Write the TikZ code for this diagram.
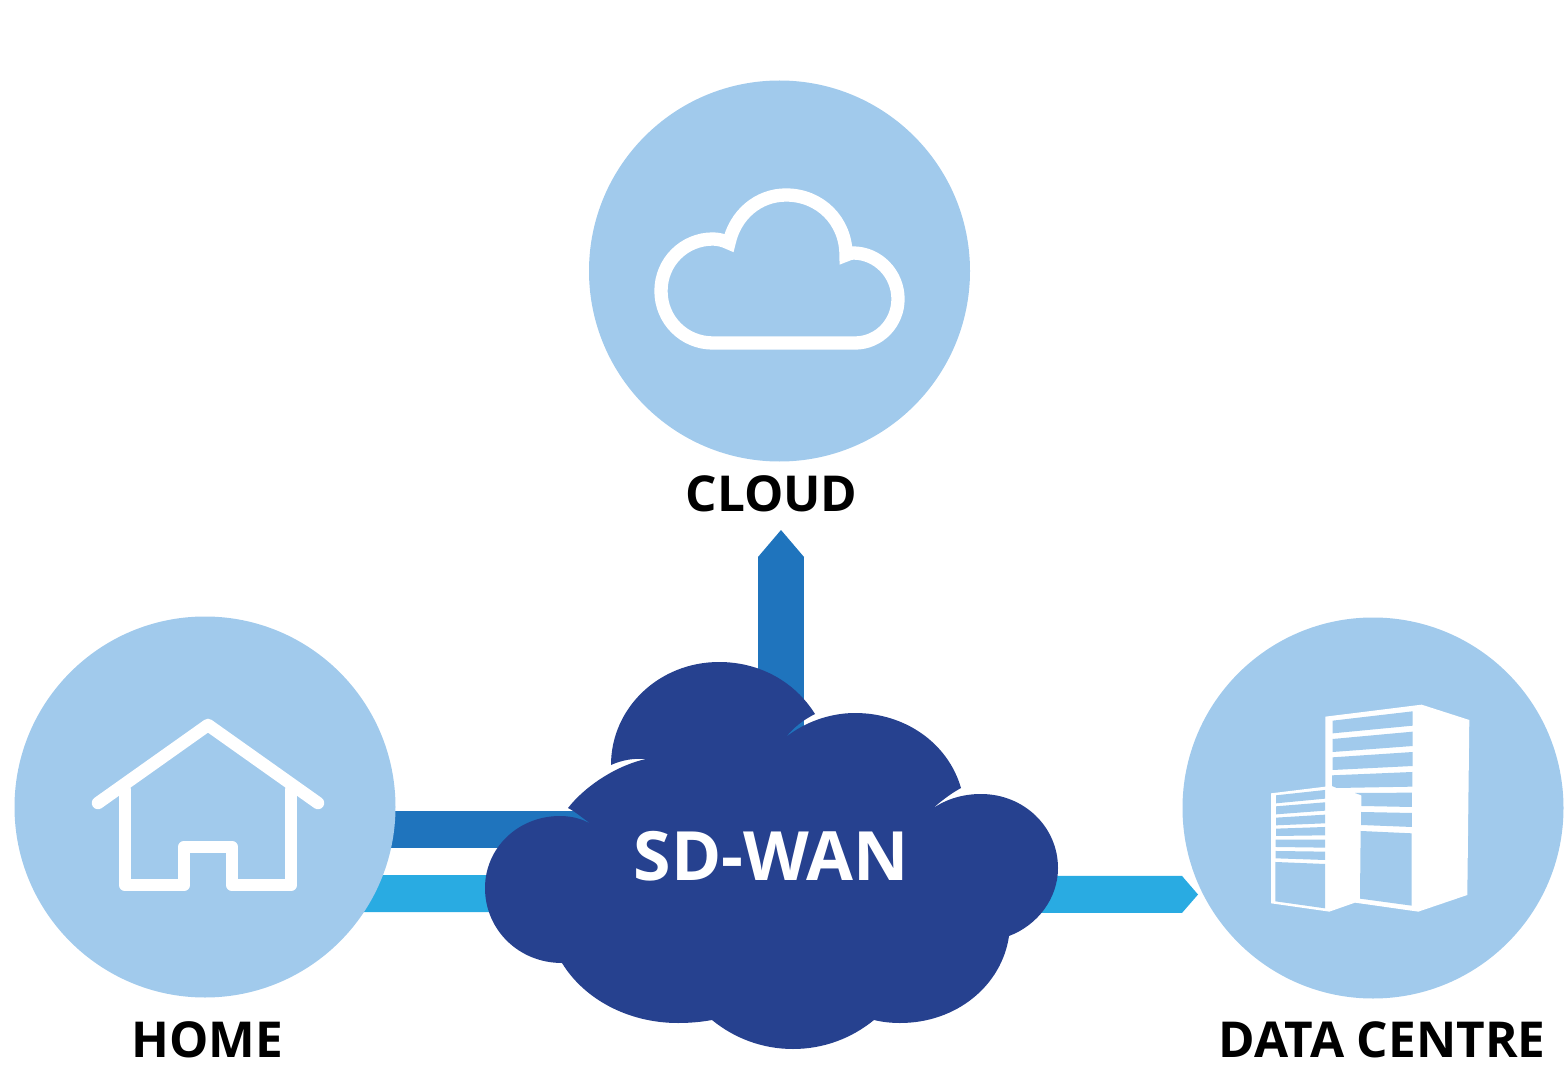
\documentclass[tikz,border=0pt]{standalone}
\usepackage{fontspec}
\setmainfont{Open Sans}
\usetikzlibrary{arrows.meta}
\definecolor{sitefill}{HTML}{A1CAEC}
\definecolor{wanfill}{HTML}{26418F}
\definecolor{darkbar}{HTML}{1F74BD}
\definecolor{lightbar}{HTML}{29ABE2}
\tikzset{site/.style={shape=circle,fill=sitefill,minimum size=381pt,inner sep=0pt}}
\tikzset{sitelabel/.style={font=\fontsize{49.5}{52}\selectfont\bfseries,text=black,inner sep=0pt}}
\tikzset{wanlabel/.style={font=\fontsize{68}{70}\selectfont\bfseries,text=white,inner sep=0pt}}
\tikzset{icon/.style={draw=white,line width=12.5pt,line join=round,line cap=round}}
\begin{document}
\begin{tikzpicture}[x=1pt,y=-1pt]
  \useasboundingbox (0,0) rectangle (1564,1075);

  \coordinate (cloudtip) at (781,530);
  \coordinate (wanup) at (781,760);
  \coordinate (homeup) at (300,829.5);
  \coordinate (wanleft) at (590,829.5);
  \coordinate (homedown) at (300,893.5);
  \coordinate (datatip) at (1198,894.5);

  \draw[darkbar,line width=46pt,-{Triangle[width=46pt,length=27pt,line width=0pt]}] (wanup) -- (cloudtip);
  \draw[darkbar,line width=37pt] (homeup) -- (wanleft);
  \draw[lightbar,line width=37pt,-{Triangle[width=37pt,length=16pt,line width=0pt]}] (homedown) -- (datatip);

  \node (cloudsite) [site] at (779.5,271) {};
  \node (homesite) [site] at (205,807) {};
  \node (datasite) [site] at (1373,808) {};

  \node (cloudlabel) [sitelabel, below of = cloudsite, node distance = 223pt, xshift = -8pt] {CLOUD};
  \node (homelabel) [sitelabel, below of = homesite, node distance = 233pt, xshift = 2pt] {HOME};
  \node (datalabel) [sitelabel, below of = datasite, node distance = 232pt, xshift = 9pt] {DATA CENTRE};

  \fill[wanfill] (611,765) .. controls (611,708) and (659,662) .. (719,662)
    .. controls (760,662) and (795,682) .. (815,714)
    .. controls (803,720) and (793,728) .. (786,737)
    .. controls (805,722) and (830,713) .. (855,713)
    .. controls (905,713) and (948,743) .. (961,788)
    .. controls (950,794) and (940,802) .. (932,809)
    .. controls (946,799) and (963,794) .. (981,794)
    .. controls (1024,794) and (1058,827) .. (1058,868)
    .. controls (1058,898) and (1038,925) .. (1009,936)
    .. controls (1002,985) and (957,1023) .. (900,1023)
    .. controls (891,1023) and (882,1022) .. (874,1020)
    .. controls (852,1038) and (824,1049) .. (793,1049)
    .. controls (762,1049) and (734,1038) .. (712,1020)
    .. controls (701,1022) and (690,1023) .. (678,1023)
    .. controls (628,1023) and (584,999) .. (562,963)
    .. controls (519,963) and (485,930) .. (485,888)
    .. controls (485,848) and (518,816) .. (560,816)
    .. controls (574,816) and (586,820) .. (595,827)
    .. controls (585,820) and (576,812) .. (568,808)
    .. controls (586,785) and (618,765) .. (646,759)
    .. controls (634,758) and (622,760) .. (611,765) -- cycle;
  \node (wan) [wanlabel] at (771,856) {SD-WAN};

  \draw[icon,line width=13.3pt,line join=miter] (713,343) -- (855,343)
    .. controls (879,343) and (898,323) .. (898,299)
    .. controls (898,274) and (878,253) .. (853,253)
    .. controls (851,253) and (848,254) .. (846,255)
    .. controls (846,221) and (820,195) .. (786,195)
    .. controls (758,195) and (735,215) .. (729,243)
    .. controls (724,240.5) and (718,239) .. (713,239)
    .. controls (684,239) and (661,262) .. (661,291)
    .. controls (661,320) and (684,343) .. (713,343) -- cycle;

  \draw[icon] (98,803) -- (208,725) -- (318,803);
  \draw[icon] (125,790) -- (125,885) -- (184,885) -- (184,847) -- (232,847) -- (232,885) -- (291,885) -- (291,790);

  \begin{scope}[shift={(1240,690)},x=0.3333pt,y=-0.3333pt]
    \fill[white] (256,80) -- (545,44) -- (688,90) -- (682,615) -- (535,665) -- (345,638) -- (268,665)
      -- (93,640) -- (93,310) -- (256,290) -- cycle;
    \foreach \a/\b/\c/\d in {
      {278,92}/{518,64}/{518,107}/{278,130},
      {278,147}/{518,125}/{518,168}/{278,186},
      {278,202}/{518,186}/{518,228}/{278,240},
      {363,366}/{516,369}/{516,411}/{363,405},
      {362,423}/{515,430}/{515,647}/{360,626},
      {108,316}/{255,300}/{255,326}/{108,340},
      {108,349}/{255,337}/{255,362}/{108,373},
      {108,383}/{255,374}/{255,400}/{108,406},
      {108,416}/{255,411}/{255,436}/{108,438},
      {107,449}/{255,449}/{255,473}/{107,471},
      {107,483}/{255,485}/{255,510}/{107,505},
      {106,516}/{255,522}/{255,655}/{106,634}}
      \fill[sitefill] (\a) -- (\b) -- (\c) -- (\d) -- cycle;
    \fill[sitefill] (276,256) -- (517,246) -- (517,290) -- (290,294) -- (276,288) -- cycle;
    \fill[sitefill] (345,309) -- (516,308) -- (516,351) -- (364,348) -- (364,316) -- cycle;
  \end{scope}
\end{tikzpicture}
\end{document}
